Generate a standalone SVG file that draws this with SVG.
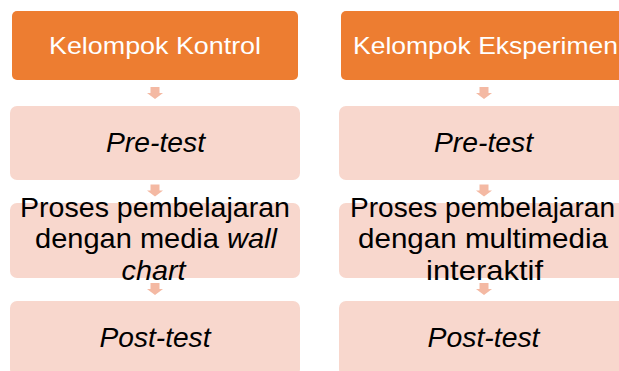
<svg xmlns="http://www.w3.org/2000/svg" width="619" height="371" viewBox="0 0 619 371">
  <style>
    .head { fill: #ED7D31; }
    .step { fill: #F8D7CD; }
    .arrow { fill: #F4B9A3; }
    text { font-family: "Liberation Sans", Arial, sans-serif; text-anchor: middle; }
    .title { fill: #FFFFFF; font-size: 24.5px; }
    .label { fill: #000000; font-size: 28px; }
    .it { font-style: italic; }
  </style>
  <defs>
    <!-- down arrow, tip at origin -->
    <path id="down" d="M -4.5 -12 H 4.5 V -6 H 8 L 0 0 L -8 -6 H -4.5 Z"/>
  </defs>

  <!-- left column: control group -->
  <g id="kontrol-head">
    <rect class="head" x="12" y="11" width="286" height="69" rx="5"/>
    <text class="title" x="155" y="54.3" textLength="212" lengthAdjust="spacingAndGlyphs">Kelompok Kontrol</text>
  </g>
  <g id="kontrol-pretest">
    <rect class="step" x="10" y="106" width="290" height="74" rx="7"/>
    <text class="label it" x="155.5" y="151.7" textLength="99" lengthAdjust="spacingAndGlyphs">Pre-test</text>
  </g>
  <g id="kontrol-proses">
    <rect class="step" x="10" y="203" width="290" height="75" rx="7"/>
    <text class="label" x="155" y="216.7" textLength="270" lengthAdjust="spacingAndGlyphs">Proses pembelajaran</text>
    <text class="label" x="156" y="248.3" textLength="242" lengthAdjust="spacingAndGlyphs">dengan media <tspan class="it">wall</tspan></text>
    <text class="label it" x="153.5" y="280" textLength="64" lengthAdjust="spacingAndGlyphs">chart</text>
  </g>
  <g id="kontrol-posttest">
    <rect class="step" x="10" y="301" width="290" height="75" rx="7"/>
    <text class="label it" x="155" y="346.7" textLength="111" lengthAdjust="spacingAndGlyphs">Post-test</text>
  </g>

  <!-- right column: experiment group -->
  <g id="eksperimen-head">
    <rect class="head" x="341" y="11" width="286" height="69" rx="5"/>
    <text class="title" x="485.5" y="54.3" textLength="265" lengthAdjust="spacingAndGlyphs">Kelompok Eksperimen</text>
  </g>
  <g id="eksperimen-pretest">
    <rect class="step" x="339" y="106" width="290" height="74" rx="7"/>
    <text class="label it" x="483.5" y="151.7" textLength="99" lengthAdjust="spacingAndGlyphs">Pre-test</text>
  </g>
  <g id="eksperimen-proses">
    <rect class="step" x="339" y="203" width="290" height="75" rx="7"/>
    <text class="label" x="482.5" y="216.7" textLength="265" lengthAdjust="spacingAndGlyphs">Proses pembelajaran</text>
    <text class="label" x="483" y="248.3" textLength="250" lengthAdjust="spacingAndGlyphs">dengan multimedia</text>
    <text class="label" x="484.5" y="280" textLength="117" lengthAdjust="spacingAndGlyphs">interaktif</text>
  </g>
  <g id="eksperimen-posttest">
    <rect class="step" x="339" y="301" width="290" height="75" rx="7"/>
    <text class="label it" x="483.5" y="346.7" textLength="112" lengthAdjust="spacingAndGlyphs">Post-test</text>
  </g>

  <!-- connectors -->
  <g id="connectors" class="arrow">
    <use href="#down" x="155" y="99"/>
    <use href="#down" x="155" y="196.5"/>
    <use href="#down" x="155" y="295"/>
    <use href="#down" x="484" y="99"/>
    <use href="#down" x="484" y="196.5"/>
    <use href="#down" x="484" y="295"/>
  </g>
</svg>
